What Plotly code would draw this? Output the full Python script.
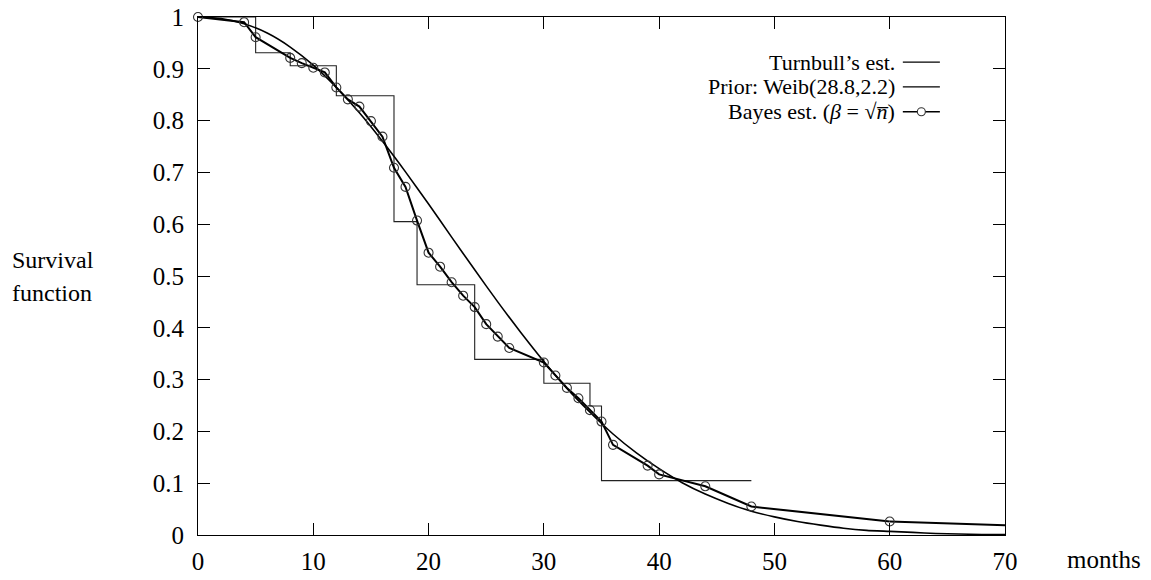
import plotly.graph_objects as go

# ---------------- data ----------------
turnbull_x = [0, 5, 8, 12, 17, 19, 24, 30, 34, 35, 48]
turnbull_y = [1.0, 0.931, 0.906, 0.848, 0.605, 0.483, 0.339, 0.293, 0.249, 0.105, 0.105]

prior_x = [0, 2, 4, 6, 8, 10, 12, 14, 16, 18, 20, 22, 24, 26, 28, 30, 32, 34, 36,
           38, 40, 42, 44, 46, 48, 50, 52, 54, 56, 58, 60, 62, 64, 66, 68, 70]
prior_y = [1.0, 0.997, 0.987, 0.969, 0.942, 0.907, 0.864, 0.815, 0.760, 0.701,
           0.639, 0.575, 0.512, 0.450, 0.391, 0.335, 0.283, 0.237, 0.195, 0.159,
           0.128, 0.101, 0.079, 0.061, 0.046, 0.035, 0.026, 0.019, 0.013, 0.009,
           0.007, 0.005, 0.003, 0.002, 0.001, 0.001]

bayes_x = [0, 4, 5, 8, 9, 10, 11, 12, 13, 14, 15, 16, 17, 18, 19, 20, 21, 22, 23,
           24, 25, 26, 27, 30, 31, 32, 33, 34, 35, 36, 39, 40, 44, 48, 60]
bayes_y = [1.0, 0.990, 0.961, 0.921, 0.911, 0.902, 0.893, 0.864, 0.841, 0.827,
           0.799, 0.769, 0.709, 0.672, 0.607, 0.545, 0.518, 0.488, 0.462, 0.440,
           0.407, 0.383, 0.361, 0.333, 0.308, 0.284, 0.264, 0.241, 0.219, 0.174,
           0.134, 0.117, 0.094, 0.055, 0.026]
bayes_end_x = [60, 70]
bayes_end_y = [0.026, 0.019]

x_ticks = [0, 10, 20, 30, 40, 50, 60, 70]
y_ticks = [0, 0.1, 0.2, 0.3, 0.4, 0.5, 0.6, 0.7, 0.8, 0.9, 1]
y_ticktext = ["0", "0.1", "0.2", "0.3", "0.4", "0.5", "0.6", "0.7", "0.8", "0.9", "1"]

legend_labels = ["Turnbull\u2019s est.", "Prior: Weib(28.8,2.2)",
                 "Bayes est. (<i>\u03b2</i> = \u221a<i>n\u0305</i>)"]

FONT = "Liberation Serif"
FS = 25
FS_LEG = 22

fig = go.Figure()

fig.add_trace(go.Scatter(x=turnbull_x, y=turnbull_y, mode="lines",
                         line=dict(color="#222", width=1.1, shape="hv"),
                         showlegend=False, hoverinfo="skip"))
fig.add_trace(go.Scatter(x=prior_x, y=prior_y, mode="lines",
                         line=dict(color="black", width=1.6, shape="spline", smoothing=0.6),
                         showlegend=False, hoverinfo="skip"))
fig.add_trace(go.Scatter(x=bayes_end_x, y=bayes_end_y, mode="lines",
                         line=dict(color="black", width=2),
                         showlegend=False, hoverinfo="skip"))
fig.add_trace(go.Scatter(x=bayes_x, y=bayes_y, mode="lines+markers",
                         line=dict(color="black", width=2),
                         marker=dict(symbol="circle-open", size=9, color="#333",
                                     line=dict(width=1.1, color="#333")),
                         showlegend=False, hoverinfo="skip", cliponaxis=False))

axis_common = dict(
    showline=True, linecolor="black", linewidth=1, mirror="ticks",
    ticks="inside", ticklen=12, tickwidth=1, tickcolor="black",
    showgrid=False, zeroline=False, automargin=False,
    tickfont=dict(family=FONT, size=FS, color="black"),
)

fig.update_xaxes(range=[0, 70], tickvals=x_ticks, ticklabelstandoff=4, **axis_common)
fig.update_yaxes(range=[0, 1], tickvals=y_ticks, ticktext=y_ticktext,
                 ticklabelstandoff=8, **axis_common)

# manual legend: text on the left, sample on the right
leg_y = [0.913, 0.865, 0.817]
text_x = 0.866
s0, s1 = 0.8734, 0.9193
annotations = []
shapes = []
for i, lab in enumerate(legend_labels):
    annotations.append(dict(x=text_x, y=leg_y[i], xref="paper", yref="paper",
                            text=lab, showarrow=False, xanchor="right", yanchor="middle",
                            font=dict(family=FONT, size=FS_LEG, color="black")))
    shapes.append(dict(type="line", xref="paper", yref="paper",
                       x0=s0, x1=s1, y0=leg_y[i], y1=leg_y[i],
                       line=dict(color="black", width=1.2 if i < 2 else 1.6)))
xc = (s0 + s1) / 2
shapes.append(dict(type="circle", xref="paper", yref="paper", xsizemode="pixel",
                   ysizemode="pixel", xanchor=xc, yanchor=leg_y[2],
                   x0=-4, x1=4, y0=-4, y1=4,
                   line=dict(color="#333", width=1.1), fillcolor="white"))

for txt, yy in (("Survival", 0.53), ("function", 0.468)):
    annotations.append(dict(x=-0.233, y=yy, xref="paper", yref="paper",
                            text=txt, showarrow=False,
                            xanchor="left", yanchor="middle", align="left",
                            font=dict(family=FONT, size=24, color="black")))
annotations.append(dict(x=1.1227, y=-0.048, xref="paper", yref="paper",
                        text="months", showarrow=False,
                        xanchor="center", yanchor="middle",
                        font=dict(family=FONT, size=FS, color="black")))

fig.update_layout(
    width=1151, height=580,
    margin=dict(l=198, r=146, t=17, b=45),
    plot_bgcolor="white", paper_bgcolor="white",
    annotations=annotations, shapes=shapes,
    showlegend=False,
)

fig.write_html("out.html")
